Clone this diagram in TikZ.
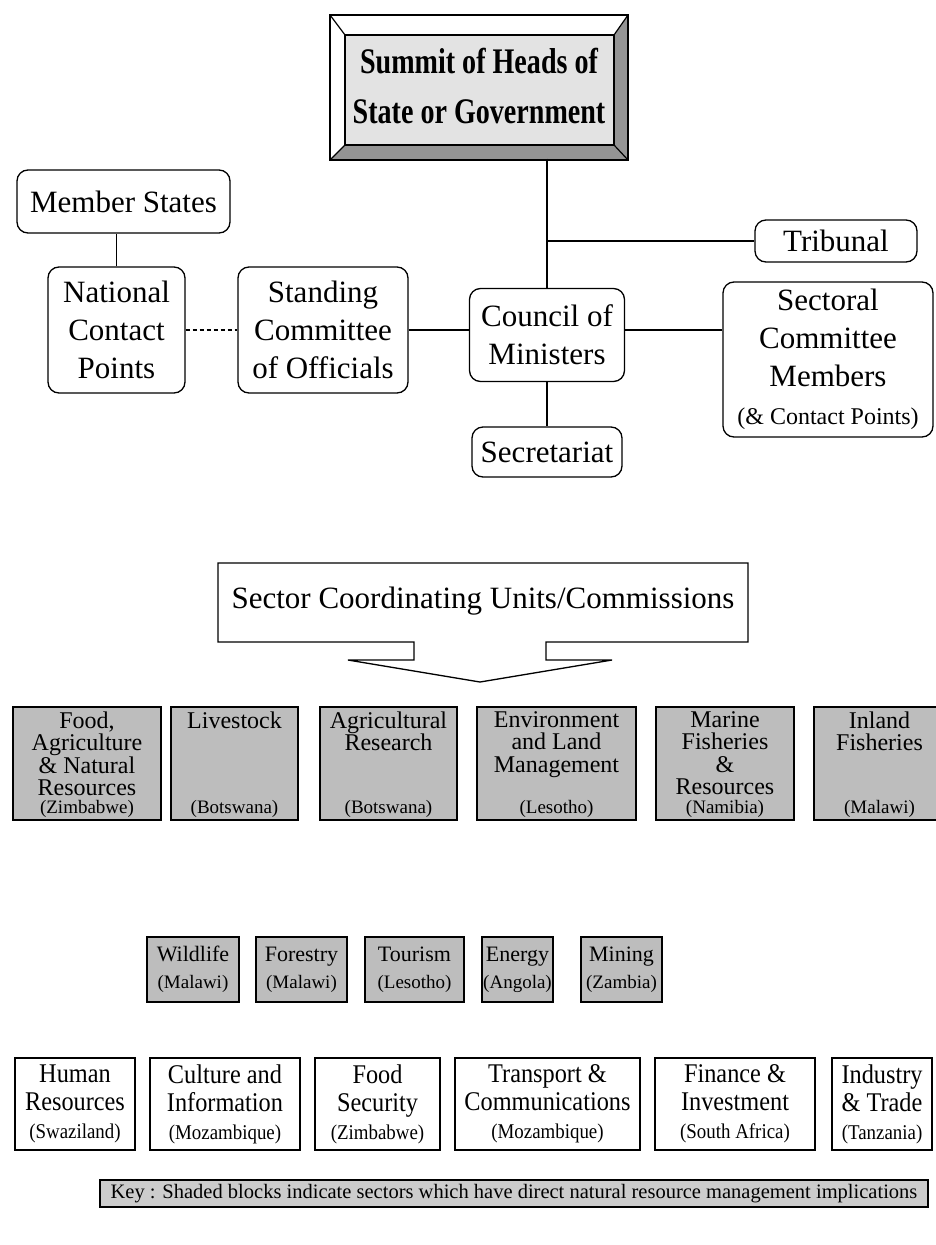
\documentclass[tikz,border=0pt]{standalone}
\usepackage{fontspec}
\setmainfont{Liberation Serif}
\newfontfamily\summitfont[FakeStretch=0.78]{Liberation Serif}
\newfontfamily\narrowfont[FakeStretch=0.9]{Liberation Serif}
\definecolor{shade}{gray}{0.74}
\definecolor{bevel}{gray}{0.58}
\definecolor{keyshade}{gray}{0.80}
\newcommand{\cty}[1]{{\fontsize{19}{22}\selectfont(#1)}}

\begin{document}
\begin{tikzpicture}[x=1pt,y=-1pt]
\tikzstyle{org}=[rectangle, rounded corners=11pt, draw=black, line width=1.3pt, align=center, inner sep=0pt, font=\fontsize{31}{38}\selectfont]
\tikzstyle{connect}=[line width=1.3pt]
\tikzstyle{sector}=[rectangle, draw=black, line width=1.4pt, fill=shade, inner sep=0pt]
\tikzstyle{small}=[sector, align=center, font=\fontsize{22}{27}\selectfont]
\tikzstyle{title}=[align=center, inner sep=0pt, font=\fontsize{24}{22.5}\selectfont]
\tikzstyle{country}=[inner sep=0pt, font=\fontsize{19}{22}\selectfont]
\tikzstyle{plain}=[rectangle, draw=black, line width=1.3pt, inner sep=0pt, align=center, font=\narrowfont\fontsize{27}{28}\selectfont]
\useasboundingbox (0,0) rectangle (935,1245);

  % summit, bevelled frame
  \fill[gray!22] (345,35) rectangle (614,145);
  \fill[bevel] (330,160) -- (345,145) -- (614,145) -- (628,160) -- cycle;
  \fill[bevel] (628,15) -- (614,35) -- (614,145) -- (628,160) -- cycle;
  \draw[line width=1.4pt] (330,15) rectangle (628,160);
  \draw[line width=1.2pt] (345,35) rectangle (614,145);
  \draw[line width=1.2pt] (330,15) -- (345,35) (628,15) -- (614,35) (330,160) -- (345,145) (628,160) -- (614,145);
  \node[minimum width=298pt, minimum height=145pt, align=center, font=\summitfont\bfseries\fontsize{36}{50}\selectfont] (summit) at (479,86) {Summit of Heads of\\State or Government};

  \node[org, minimum width=213pt, minimum height=63pt] (member) at (123.5,201.5) {Member States};
  \node[org, minimum width=137pt, minimum height=126pt] (ncp) at (116.5,330) {National\\Contact\\Points};
  \node[org, minimum width=170pt, minimum height=126pt] (officials) at (323,330) {Standing\\Committee\\of Officials};
  \node[org, minimum width=155pt, minimum height=93pt] (council) at (547,335) {Council of\\Ministers};
  \node[org, minimum width=162pt, minimum height=42pt] (tribunal) at (836,241) {Tribunal};
  \node[org, minimum width=150pt, minimum height=50pt] (secretariat) at (547,452) {Secretariat};
  \node[org, minimum width=210pt, minimum height=155pt] (sectoral) at (828,359.5) {Sectoral\\Committee\\Members\\{\fontsize{24}{28}\selectfont(\& Contact Points)}};

  \draw[connect] (council.north |- summit.south) -- (council.north);
  \draw[connect] (council.north |- tribunal.west) -- (tribunal.west);
  \draw[connect] (ncp.north) -- (ncp.north |- member.south);
  \draw[connect, dash pattern=on 4pt off 3pt] (ncp) -- (officials);
  \draw[connect] (officials.east) -- (officials.east -| council.west);
  \draw[connect] (officials.east -| council.east) -- (officials.east -| sectoral.west);
  \draw[connect] (council.south) -- (secretariat.north);

  % callout with the arrow
  \node[font=\fontsize{31}{38}\selectfont] (units) at (483,601) {Sector Coordinating Units/Commissions};
  \draw[line width=1.3pt] (218,563) -- (748,563) -- (748,642) -- (546,642) -- (546,660) -- (612,660) -- (480,682)
    -- (348,660) -- (414,660) -- (414,642) -- (218,642) -- cycle;

  % shaded sectors
  \node[sector, minimum width=148pt, minimum height=113pt] (food) at (87,763.5) {};
  \node[sector, minimum width=127pt, minimum height=113pt] (livestock) at (234.5,763.5) {};
  \node[sector, minimum width=137pt, minimum height=113pt] (research) at (388.5,763.5) {};
  \node[sector, minimum width=159pt, minimum height=113pt] (land) at (556.5,763.5) {};
  \node[sector, minimum width=138pt, minimum height=113pt] (marine) at (725,763.5) {};
  \node[sector, minimum width=131pt, minimum height=113pt] (inland) at (879.5,763.5) {};
  \node[title, anchor=north] (foodname) at ([yshift=-5pt]food.north) {Food,\\Agriculture\\\& Natural\\Resources};
  \node[title, anchor=north] (livestockname) at ([yshift=-5pt]livestock.north) {Livestock};
  \node[title, anchor=north] (researchname) at ([yshift=-5pt]research.north) {Agricultural\\Research};
  \node[title, anchor=north] (landname) at ([yshift=-5pt]land.north) {Environment\\and Land\\Management};
  \node[title, anchor=north] (marinename) at ([yshift=-5pt]marine.north) {Marine\\Fisheries\\\&\\Resources};
  \node[title, anchor=north] (inlandname) at ([yshift=-5pt]inland.north) {Inland\\Fisheries};
  \node[country, anchor=south] (foodcty) at ([yshift=3pt]food.south) {(Zimbabwe)};
  \node[country, anchor=south] (livestockcty) at ([yshift=3pt]livestock.south) {(Botswana)};
  \node[country, anchor=south] (researchcty) at ([yshift=3pt]research.south) {(Botswana)};
  \node[country, anchor=south] (landcty) at ([yshift=3pt]land.south) {(Lesotho)};
  \node[country, anchor=south] (marinecty) at ([yshift=3pt]marine.south) {(Namibia)};
  \node[country, anchor=south] (inlandcty) at ([yshift=3pt]inland.south) {(Malawi)};

  \node[small, minimum width=92pt, minimum height=65pt] (wildlife) at (193,969.5) {Wildlife\\\cty{Malawi}};
  \node[small, minimum width=91pt, minimum height=65pt] (forestry) at (301.5,969.5) {Forestry\\\cty{Malawi}};
  \node[small, minimum width=99pt, minimum height=65pt] (tourism) at (414.5,969.5) {Tourism\\\cty{Lesotho}};
  \node[small, minimum width=71pt, minimum height=65pt] (energy) at (517.5,969.5) {Energy\\\cty{Angola}};
  \node[small, minimum width=81pt, minimum height=65pt] (mining) at (621.5,969.5) {Mining\\\cty{Zambia}};

  % other sectors
  \node[plain, minimum width=120pt, minimum height=92pt] (human) at (75,1104) {Human\\Resources\\{\fontsize{21}{26}\selectfont(Swaziland)}};
  \node[plain, minimum width=150pt, minimum height=92pt] (culture) at (225,1104) {Culture and\\Information\\{\fontsize{21}{26}\selectfont(Mozambique)}};
  \node[plain, minimum width=125pt, minimum height=92pt] (security) at (377.5,1104) {Food\\Security\\{\fontsize{21}{26}\selectfont(Zimbabwe)}};
  \node[plain, minimum width=185pt, minimum height=92pt] (transport) at (547.5,1104) {Transport \&\\Communications\\{\fontsize{21}{26}\selectfont(Mozambique)}};
  \node[plain, minimum width=160pt, minimum height=92pt] (finance) at (735,1104) {Finance \&\\Investment\\{\fontsize{21}{26}\selectfont(South Africa)}};
  \node[plain, minimum width=100pt, minimum height=92pt] (industry) at (882,1104) {Industry\\\& Trade\\{\fontsize{21}{26}\selectfont(Tanzania)}};

  \node[rectangle, draw=black, line width=1.2pt, fill=keyshade, minimum width=828pt, minimum height=27pt, font=\fontsize{20.5}{23}\selectfont] (key) at (514,1193.5) {Key : Shaded blocks indicate sectors which have direct natural resource management implications};
\end{tikzpicture}
\end{document}
